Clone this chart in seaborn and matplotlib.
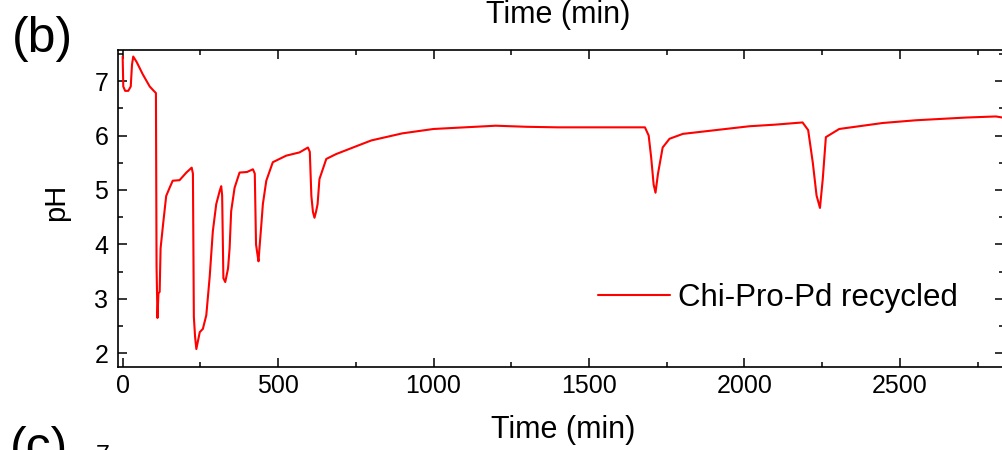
import matplotlib
matplotlib.use("Agg")
import matplotlib.pyplot as plt
from matplotlib.ticker import MultipleLocator
import pandas as pd
import seaborn as sns

# pH trace (time in min)
time_min = [0, 2, 8, 18, 26, 30, 34, 45, 65, 87, 100, 107, 109, 112, 115, 119,
            122, 130, 140, 151, 161, 183, 205, 222, 226, 229, 233, 237, 248, 258,
            269, 280, 290, 301, 312, 317, 320, 324, 330, 339, 344, 349, 360, 376,
            400, 419, 425, 429, 434, 437, 441, 446, 451, 462, 483, 526, 569, 596,
            602, 607, 612, 617, 622, 627, 633, 655, 687, 750, 800, 900, 1000, 1100,
            1200, 1300, 1400, 1500, 1600, 1680, 1692, 1700, 1708, 1714, 1722, 1737,
            1759, 1802, 1909, 2016, 2100, 2187, 2205, 2220, 2232, 2243, 2252, 2262,
            2305, 2445, 2552, 2713, 2809, 2830]
ph = [7.45, 6.9, 6.82, 6.82, 6.9, 7.3, 7.45, 7.35, 7.12, 6.9, 6.82, 6.78, 3.6, 2.65,
      3.1, 3.13, 3.93, 4.37, 4.89, 5.04, 5.17, 5.18, 5.32, 5.41, 5.3, 2.67, 2.3,
      2.08, 2.39, 2.45, 2.70, 3.41, 4.24, 4.74, 4.98, 5.07, 4.9, 3.38, 3.31, 3.56,
      3.93, 4.61, 5.04, 5.32, 5.33, 5.38, 5.3, 4.0, 3.8, 3.69, 4.0, 4.36, 4.74,
      5.17, 5.51, 5.63, 5.69, 5.78, 5.7, 4.89, 4.6, 4.49, 4.6, 4.74, 5.2, 5.57,
      5.66, 5.8, 5.91, 6.04, 6.12, 6.15, 6.18, 6.16, 6.15, 6.15, 6.15, 6.15, 6.0,
      5.6, 5.1, 4.95, 5.3, 5.78, 5.94, 6.03, 6.10, 6.17, 6.2, 6.24, 6.1, 5.5, 4.9,
      4.67, 5.2, 5.97, 6.12, 6.23, 6.28, 6.33, 6.35, 6.33]

df = pd.DataFrame({"time": time_min, "pH": ph})

sns.set_style("ticks")
plt.rcParams["font.family"] = ["Liberation Sans", "DejaVu Sans"]
plt.rcParams["text.color"] = "black"
plt.rcParams["axes.labelcolor"] = "black"
plt.rcParams["xtick.color"] = "black"
plt.rcParams["ytick.color"] = "black"

fig = plt.figure(figsize=(10.03, 4.5), dpi=100)
ax = fig.add_axes([118 / 1003, 83 / 450, 886 / 1003, 317 / 450])

sns.lineplot(data=df, x="time", y="pH", color="#ff0000", linewidth=1.5,
             label="Chi-Pro-Pd recycled", ax=ax, sort=False)

ax.set_xlim(-15, 2835)
ax.set_ylim(1.75, 7.57)
ax.xaxis.set_major_locator(MultipleLocator(500))
ax.xaxis.set_minor_locator(MultipleLocator(250))
ax.yaxis.set_major_locator(MultipleLocator(1))
ax.yaxis.set_minor_locator(MultipleLocator(0.5))
ax.tick_params(which="both", direction="in", top=True, right=True, width=1.1)
ax.tick_params(which="major", length=6.5, labelsize=18)
ax.tick_params(which="minor", length=3.5)
ax.tick_params(axis="x", pad=5)
ax.tick_params(axis="y", pad=7)
for sp in ax.spines.values():
    sp.set_linewidth(1.2)
    sp.set_color("black")

ax.set_xlabel("Time (min)", fontsize=22)
ax.xaxis.set_label_coords(0.502, -0.152)
ax.set_ylabel("pH", fontsize=21)
ax.yaxis.set_label_coords(-0.054, 0.52)

ax.legend(loc="center left", bbox_to_anchor=(598 / 1003, 1 - 297.7 / 450),
          bbox_transform=fig.transFigure, frameon=False, fontsize=22.5,
          handlelength=2.3, handletextpad=0.26, borderpad=0, borderaxespad=0)

# neighbouring panel remnants of the original figure (cut at the edges as in the source)
fig.text(558 / 1003, 1 - 15 / 450, "Time (min)", fontsize=22, ha="center", va="center")
fig.text(42 / 1003, 1 - 39 / 450, "(b)", fontsize=36, ha="center", va="center")
fig.text(10 / 1003, -12 / 450, "(c)", fontsize=36, ha="left", va="baseline")
fig.text(103 / 1003, -13 / 450, "7", fontsize=18, ha="center", va="baseline")

fig.savefig("out.png", dpi=100)
plt.close(fig)
